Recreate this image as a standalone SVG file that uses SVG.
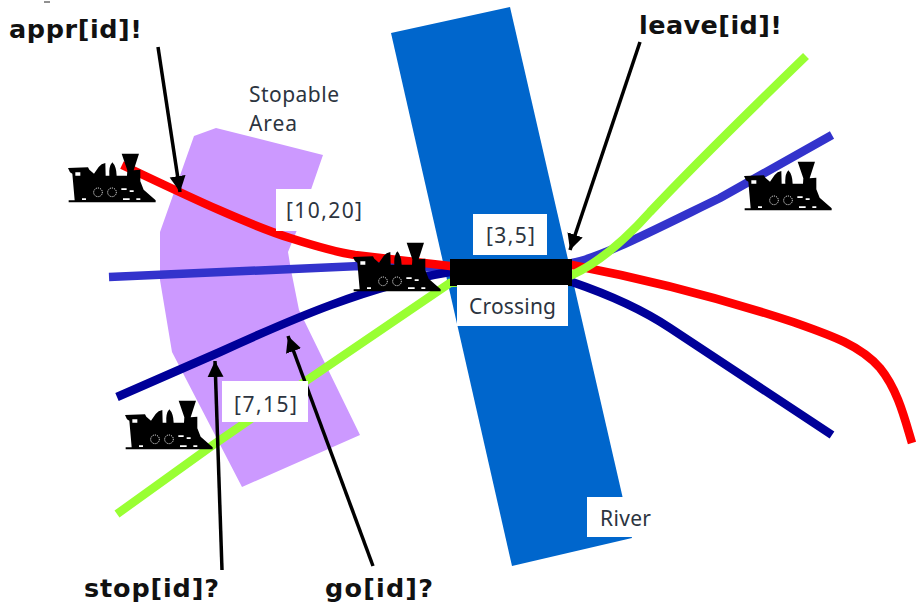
<svg xmlns="http://www.w3.org/2000/svg" width="916" height="602" viewBox="0 0 916 602">
<style>
.t{stroke-width:8.5;fill:none}
.lb{font-family:"Noto Sans","Open Sans",sans-serif;font-size:21px;fill:#2c3440}
.ev{font-family:"DejaVu Sans",sans-serif;font-size:25.5px;font-weight:bold;fill:#111}
.bx{fill:#fff}
.a{stroke:#000;stroke-width:3.5;fill:none}
</style>
<defs>
<marker id="ah" markerUnits="userSpaceOnUse" markerWidth="18" markerHeight="18" refX="16" refY="8" orient="auto"><path d="M0,0L16,8L0,16z" fill="#000"/></marker>
<g id="train">
<g transform="scale(0.3333)">
<path fill="#000" d="M0,45L60,43L64,50L78,62L92,42Q100,32 112,30L113,68L124,68Q122,40 133,28Q145,40 146,68L177,68L178,52L161,2L213,2L197,52L217,50L217,85L227,110L263,142L263,148L2,148L2,142L20,142L13,62L6,58Z"/>
<circle cx="90" cy="118" r="13" fill="none" stroke="#fff" stroke-width="3" stroke-dasharray="3 3"/>
<circle cx="132" cy="118" r="13" fill="none" stroke="#fff" stroke-width="3" stroke-dasharray="3 3"/>
<path fill="#fff" d="M22,58h15v10h-15zM160,106h16v5h-16zM185,112h12v5h-12zM42,136h12v5h-12zM165,136h20v5h-20zM205,136h12v5h-12z"/>
</g>
</g>
</defs>
<rect width="916" height="602" fill="#fff"/>
<path d="M44,2h6" stroke="#222" stroke-width="1"/>
<g id="river"><polygon points="391,33 510,7 632,538 512,566" fill="#0066cc"/></g>
<g id="stopable-area"><polygon points="216,128 323,155 297,230 288,252 291,270 299,310 360,435 242,487 172,352 160,280 160,232 194,136" fill="#cc99ff"/></g>
<g id="connectors">
<path class="t" stroke="#3333cc" d="M109,277L360,266L450,268L572,263C600,258 650,232 720,198L832,135"/>
<path class="t" stroke="#000099" d="M117,397L220,352C290,320 370,285 450,272L572,282C610,295 640,308 670,328L832,435"/>
<path class="t" stroke="#ff0000" d="M122,165C165,185 240,222 290,238C315,246 335,252 355,255L450,266L572,265C640,278 720,298 793,322C830,335 860,345 880,368C898,390 905,420 912,443"/>
<path class="t" stroke="#99ff33" d="M117,514L213,445L300,385L450,283L572,275C600,262 625,240 650,212C680,180 740,120 806,56"/>
<path class="a" marker-end="url(#ah)" d="M158,47L180,192"/>
<path class="a" marker-end="url(#ah)" d="M640,42L570,250"/>
<path class="a" marker-end="url(#ah)" d="M222,570L215,361"/>
<path class="a" marker-end="url(#ah)" d="M373,566L288,336"/>
</g>
<g id="crossing-bar"><rect x="450" y="259" width="122" height="27" fill="#000"/></g>
<g id="label-stopable"><rect class="bx" x="246" y="82" width="96" height="46"/><text class="lb" x="249" y="102" textLength="90">Stopable</text><text class="lb" x="249" y="131" textLength="48">Area</text></g>
<g id="label-10-20"><rect class="bx" x="276" y="189" width="86" height="42"/><text class="lb" x="286" y="218" textLength="76">[10,20]</text></g>
<g id="label-3-5"><rect class="bx" x="473" y="214" width="74" height="41"/><text class="lb" x="486" y="243" textLength="49">[3,5]</text></g>
<g id="label-crossing"><rect class="bx" x="457" y="285" width="111" height="41"/><text class="lb" x="469" y="314" textLength="87">Crossing</text></g>
<g id="label-7-15"><rect class="bx" x="222" y="381" width="86" height="41"/><text class="lb" x="234" y="412" textLength="63">[7,15]</text></g>
<g id="label-river"><rect class="bx" x="587" y="497" width="68" height="40"/><text class="lb" x="600" y="526" textLength="51">River</text></g>
<g id="train-1"><use href="#train" x="68" y="153"/></g>
<g id="train-2"><use href="#train" x="353" y="242"/></g>
<g id="train-3"><use href="#train" x="125" y="400"/></g>
<g id="train-4"><use href="#train" x="744" y="161"/></g>
<g id="event-appr"><text class="ev" x="9" y="38" textLength="133">appr[id]!</text></g>
<g id="event-leave"><text class="ev" x="639" y="34" textLength="143">leave[id]!</text></g>
<g id="event-stop"><text class="ev" x="84" y="597" textLength="135">stop[id]?</text></g>
<g id="event-go"><text class="ev" x="325" y="597" textLength="108">go[id]?</text></g>
</svg>
